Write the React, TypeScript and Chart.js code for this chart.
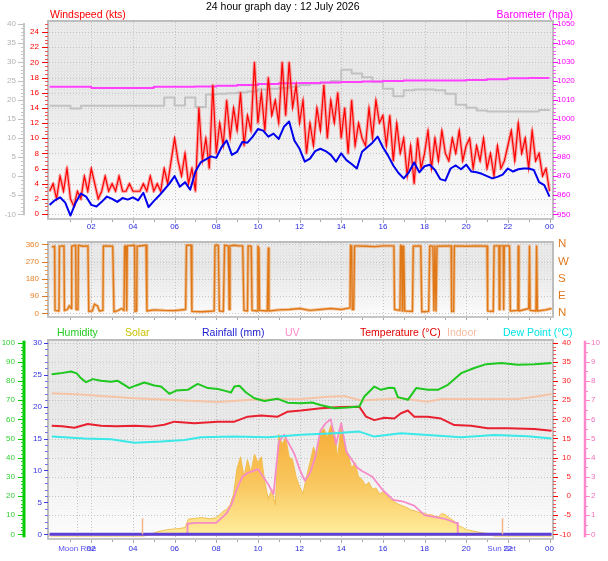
import React, { useEffect, useRef } from "react";
import { Chart, registerables } from "chart.js";

Chart.register(...registerables);

const FONT = '"Liberation Sans", Arial, Helvetica, sans-serif';
Chart.defaults.font.family = FONT;

// ---------------- shared time axis ----------------
const X_MIN = -0.03;
const X_MAX = 24.12;
const hourTicks = [2, 4, 6, 8, 10, 12, 14, 16, 18, 20, 22, 24];
const hourLabels = ["02", "04", "06", "08", "10", "12", "14", "16", "18", "20", "22", "00"];
const gridHours = [2, 4, 6, 8, 10, 12, 14, 16, 18, 20, 22];
const eventLabels = ["Moon Rise", "Sun Set"];
const eventHours = [1.33, 21.7];
const sunMarkHours = [4.45, 21.7];

const titleText = "24 hour graph day : 12 July 2026";

// ---------------- top panel ----------------
const windTicks = [0, 2, 4, 6, 8, 10, 12, 14, 16, 18, 20, 22, 24];
const greyTicks = [-10, -5, 0, 5, 10, 15, 20, 25, 30, 35, 40];
const baroTicks = [950, 960, 970, 980, 990, 1000, 1010, 1020, 1030, 1040, 1050];

const WIND_STEP = 0.25; // hours between samples, first sample at 00:00
const windSpeed = [
  1.2,
  1.8, 2.2, 1.5, -0.2, 1.5, 2.7, 2.3, 1.2, 1.0, 1.6, 2.3, 2.0,
  1.6, 2.1, 1.9, 2.2, 1.8, 2.8, 0.9, 1.7, 2.4, 3.2, 4.0, 5.0,
  3.6, 4.2, 3.2, 5.6, 6.8, 7.2, 7.6, 7.4, 8.8, 9.7, 7.8, 8.2,
  9.5, 9.4, 10.2, 11.2, 11.0, 10.2, 10.6, 9.9, 11.5, 12.2, 9.7, 8.6,
  6.9, 7.3, 8.3, 8.6, 8.3, 7.8, 6.9, 8.0, 7.1, 6.6, 6.0, 8.2,
  8.8, 9.4, 10.2, 8.8, 7.7, 6.4, 5.4, 4.7, 5.5, 6.8, 5.5, 6.3,
  6.5, 5.8, 4.6, 4.4, 6.0, 6.4, 5.9, 6.5, 5.6, 5.5, 5.3, 5.0,
  4.7, 4.9, 5.2, 6.0, 5.6, 5.9, 6.0, 6.0, 5.8, 4.2, 3.8, 2.3,
];

const GUST_STEP = 1 / 6; // 10-minute samples
const windGust = [
  3,
  4, 2, 5, 3, 6, 2,
  1, 3, 2, 5, 3, 6,
  4, 2, 3, 5, 3, 4,
  3, 5, 3, 3, 4, 3,
  3, 3, 4, 3, 5, 3,
  4, 3, 6, 4, 7, 10,
  7, 5, 8, 4, 6, 3,
  14, 7, 10, 6, 17, 8,
  12, 9, 15, 10, 14, 11,
  16, 9, 13, 11, 20, 12,
  16, 11, 18, 13, 15, 12,
  20, 13, 20, 14, 17, 12,
  15, 8, 12, 9, 14, 11,
  17, 10, 15, 12, 16, 10,
  14, 8, 15, 9, 12, 10,
  9, 14, 10, 15, 12, 13,
  9, 13, 7, 12, 8, 10,
  5, 9, 4, 10, 6, 8,
  11, 6, 10, 7, 11, 8,
  7, 10, 8, 11, 7, 9,
  10, 6, 9, 7, 10, 6,
  8, 5, 9, 6, 7, 9,
  11, 7, 12, 8, 10, 6,
  11, 7, 8, 5, 6, 3,
];

const BARO_STEP = 1;
const barometer = [
  1017, 1017, 1016.4, 1016.4, 1016.4, 1017, 1017, 1017.2, 1017.6, 1018, 1018.5, 1018.8,
  1019, 1019.2, 1019.5, 1019.8, 1020, 1020.3, 1020.3, 1020.3, 1020.6, 1021, 1021.5, 1021.6, 1021.6,
];

const GREY_STEP = 0.5;
const greyTrace = [
  18.5, 18.5, 17.8, 18.5, 18.5, 18.5, 18.5, 18.5, 18.5, 18.5, 18.5,
  20.7, 18.6, 20.7, 18.2, 21.5, 21.7, 21.8, 22.0, 22.3, 22.8,
  23.0, 23.2, 23.5, 24.0, 24.3, 24.6, 25.0, 28.0,
  27.0, 26.0, 24.8, 23.0, 21.0, 22.6, 22.8, 22.8,
  22.6, 21.7, 18.8, 18.0, 17.3,
  17.0, 17.0, 17.0, 17.0, 17.0, 17.4, 17.5,
];

// ---------------- middle panel (wind direction) ----------------
const dirTicks = [0, 90, 180, 270, 360];
const dirLetters = ["N", "E", "S", "W", "N"];
const dirHours = [
  0.1, 0.24, 0.26, 0.45, 0.47, 0.69, 0.71, 0.85, 0.95, 1.03,
  1.06, 1.25, 1.27, 1.36, 1.38, 1.6, 1.84, 1.88, 2.05, 2.15,
  2.3, 2.39, 2.56, 2.58, 3.03, 3.09, 3.3, 3.45, 3.57, 3.6,
  3.66, 3.7, 3.73, 4.08, 4.1, 4.18, 4.2, 4.63, 4.67, 5.0,
  5.5, 6.0, 6.53, 6.57, 6.79, 6.83, 7.3, 7.9, 7.94, 8.1,
  8.15, 8.34, 8.4, 8.58, 8.62, 8.66, 8.87, 9.1, 9.27, 9.33,
  9.5, 9.53, 9.68, 9.72, 9.97, 10.0, 10.05, 10.08, 10.45, 10.5,
  10.53, 11.0, 11.5, 12.0, 12.5, 13.0, 13.5, 14.0, 14.42, 14.45,
  14.5, 14.53, 14.6, 14.64, 14.7, 15.2, 15.6, 16.0, 16.53, 16.56,
  16.82, 16.85, 16.9, 16.93, 16.96, 17.0, 17.05, 17.42, 17.46, 17.82,
  17.87, 18.2, 18.25, 18.4, 18.45, 18.5, 18.55, 18.6, 19.28, 19.3,
  19.4, 19.43, 20.0, 20.5, 21.0, 21.03, 21.3, 21.34, 21.57, 21.59,
  21.62, 21.78, 21.8, 21.83, 22.08, 22.12, 22.48, 22.5, 22.53, 23.0,
  23.04, 23.07, 23.35, 23.38, 23.42, 23.8, 24.1,
];
const dirDeg = [
  345, 350, 15, 12, 350, 352, 14, 20, 40, 25,
  350, 355, 20, 20, 355, 350, 352, 10, 12, 48,
  38, 12, 15, 352, 350, 8, 15, 25, 15, 350,
  352, 15, 352, 355, 10, 12, 350, 355, 12, 18,
  15, 14, 20, 355, 355, 10, 8, 12, 355, 355,
  12, 10, 355, 352, 20, 352, 355, 352, 352, 15,
  12, 352, 350, 15, 12, 350, 340, 15, 12, 340,
  12, 18, 20, 25, 15, 20, 25, 20, 28, 355,
  350, 20, 20, 352, 352, 350, 348, 352, 352, 20,
  15, 355, 350, 12, 350, 350, 12, 10, 350, 352,
  8, 10, 352, 350, 15, 352, 12, 350, 352, 10,
  10, 352, 350, 352, 350, 12, 10, 352, 352, 20,
  352, 352, 20, 352, 352, 12, 15, 350, 12, 25,
  350, 15, 12, 350, 12, 18, 25,
];

// ---------------- bottom panel ----------------
const humTicks = [0, 10, 20, 30, 40, 50, 60, 70, 80, 90, 100];
const rainTicks = [0, 5, 10, 15, 20, 25, 30];
const tempTicks = [-10, -5, 0, 5, 10, 15, 20, 25, 30, 35, 40];
const uvTicks = [0, 1, 2, 3, 4, 5, 6, 7, 8, 9, 10];

const humHours = [
  0.1, 0.5, 1.03, 1.3, 1.5, 1.75, 2.07, 2.47, 2.95, 3.27,
  3.51, 3.83, 4.15, 4.55, 5.03, 5.35, 5.75, 6.07, 6.63, 7.11,
  7.6, 8.07, 8.39, 8.71, 8.87, 9.11, 9.43, 9.83, 10.31, 10.95,
  11.43, 12.07, 12.6, 13.0, 13.67, 14.3, 14.87, 15.11, 15.59, 15.91,
  16.3, 16.55, 16.72, 17.2, 17.6, 18.16, 18.64, 19.12, 19.76, 20.39,
  20.96, 21.68, 22.48, 23.27, 24.1,
];
const humValues = [
  83.5, 84, 85, 84, 81.5, 79.4, 81, 80.1, 79.6, 80.1,
  78.5, 76.3, 77.7, 79.2, 77.7, 77.1, 73.3, 75, 75.4, 78.5,
  76.3, 75.8, 75, 74, 77.1, 77.5, 74, 71, 69.6, 70.7,
  68.7, 68.4, 68.8, 67.5, 65.8, 66.2, 66.7, 71.9, 77.1, 75.4,
  76.5, 76.3, 71.6, 70.2, 76.3, 75.4, 75.4, 78, 84.1, 86.8,
  88.8, 89.4, 88.5, 88.8, 89.4,
];

const tempHours = [
  0.1, 0.6, 1.19, 1.83, 2.47, 3.2, 4.07, 4.87, 5.5, 5.99,
  6.95, 8.07, 8.87, 9.51, 10.15, 10.95, 11.43, 12.07, 13.03, 13.99,
  14.87, 15.19, 15.59, 16.07, 16.55, 16.87, 17.2, 17.51, 18.15, 18.79,
  19.43, 20.23, 21.03, 22.0, 23.27, 24.1,
];
const tempValues = [
  18.3, 18.2, 17.8, 18.8, 18.3, 18.2, 18.3, 18.1, 18.6, 19.4,
  19.0, 19.4, 19.4, 20.7, 21.0, 20.7, 22.0, 22.3, 22.9, 23.2,
  23.3, 20.7, 19.8, 20.4, 20.2, 21.6, 22.3, 20.7, 20.7, 20.2,
  18.5, 18.3, 17.7, 17.7, 17.5, 17.0,
];

const indoorHours = [0.1, 1.5, 2.47, 4.07, 5.67, 8.07, 9.67, 11.27, 12.07, 13.2, 14.15, 14.95, 16.87, 18.15, 18.79, 20.87, 22.48, 23.3, 24.1];
const indoorValues = [26.8, 26.5, 26.1, 25.5, 25.1, 24.5, 25.1, 25.3, 25.3, 25.8, 26.1, 24.9, 25.5, 24.6, 25.3, 25.3, 25.3, 25.9, 26.6];

const dewHours = [0.1, 1.67, 2.95, 4.07, 5.35, 6.47, 7.27, 8.87, 10.47, 12.07, 13.67, 14.87, 15.59, 16.87, 18.15, 19.76, 21.35, 22.95, 24.1];
const dewValues = [15.5, 15.0, 14.8, 13.9, 14.2, 14.6, 15.3, 15.5, 15.3, 16.0, 16.4, 16.8, 15.5, 16.4, 15.9, 15.3, 15.9, 15.6, 15.0];

const uvHours = [
  0, 6.6, 6.62, 7.0, 7.5, 8.0, 8.3, 8.5, 8.75, 9.0,
  9.25, 9.5, 9.75, 10.0, 10.25, 10.5, 10.75, 11.0, 11.25, 11.5,
  11.75, 12.0, 12.25, 12.5, 12.75, 13.0, 13.25, 13.5, 13.75, 14.0,
  14.25, 14.5, 14.75, 15.0, 15.5, 16.0, 16.5, 17.0, 17.5, 18.0,
  18.5, 19.0, 19.5, 19.58, 19.6, 24.1,
];
const uvValues = [
  0, 0, 0.55, 0.6, 0.6, 0.6, 0.9, 1.1, 1.6, 2.4,
  3.0, 3.2, 3.3, 3.4, 3.0, 2.6, 2.1, 4.8, 5.2, 4.7,
  4.2, 3.4, 2.8, 3.2, 4.0, 5.4, 5.8, 6.0, 4.7, 5.8,
  4.3, 3.9, 3.5, 3.3, 3.0, 2.3, 1.8, 1.7, 1.5, 1.0,
  0.9, 0.8, 0.6, 0.6, 0, 0,
];

const SOLAR_START = 4; // first 10-minute sample hour
const SOLAR_STEP = 1 / 6;
const solar = [
  0, 0, 0, 0, 5, 12,
  20, 30, 35, 40, 45, 48,
  50, 52, 55, 60, 120, 122,
  125, 128, 130, 126, 122, 125,
  130, 150, 175, 190, 220, 300,
  480, 560, 420, 540, 450, 580,
  520, 560, 380, 260, 330, 220,
  720, 650, 700, 560, 540, 420,
  350, 300, 420, 520, 630, 560,
  730, 760, 700, 785, 740, 560,
  800, 640, 580, 480, 520, 420,
  400, 360, 380, 330, 340, 300,
  310, 290, 260, 250, 230, 220,
  210, 200, 185, 180, 170, 165,
  160, 150, 150, 140, 135, 160,
  150, 130, 115, 95, 70, 60,
  45, 40, 35, 30, 25, 22,
  18, 10, 0, 0, 0, 0,
];

const rainHours = [0, 24.1];
const rainValues = [0, 0];

// ---------------- helpers ----------------
type Pt = { x: number; y: number };
const pairs = (xs: number[], ys: number[]): Pt[] => ys.map((y, i) => ({ x: xs[i], y }));
const regular = (start: number, step: number, ys: number[]): Pt[] => ys.map((y, i) => ({ x: start + i * step, y }));

function text(ctx: CanvasRenderingContext2D, s: string, x: number, y: number, color: string, size: number, align: CanvasTextAlign = "left") {
  ctx.font = `${size}px ${FONT}`;
  ctx.fillStyle = color;
  ctx.textAlign = align;
  ctx.textBaseline = "middle";
  ctx.fillText(s, x, y);
}

function tickRun(ctx: CanvasRenderingContext2D, scale: any, from: number, to: number, step: number, x0: number, x1: number, color: string) {
  ctx.save();
  ctx.strokeStyle = color;
  ctx.lineWidth = 1;
  ctx.setLineDash([]);
  ctx.beginPath();
  const n = Math.round((to - from) / step);
  for (let i = 0; i <= n; i++) {
    const y = Math.round(scale.getPixelForValue(from + i * step)) + 0.5;
    ctx.moveTo(x0, y);
    ctx.lineTo(x1, y);
  }
  ctx.stroke();
  ctx.restore();
}

function labelRun(ctx: CanvasRenderingContext2D, scale: any, values: number[], labels: string[], x: number, align: CanvasTextAlign, color: string, size = 8) {
  values.forEach((v, i) => text(ctx, labels[i], x, scale.getPixelForValue(v), color, size, align));
}

function vAxisLine(ctx: CanvasRenderingContext2D, x: number, y0: number, y1: number, color: string, w: number) {
  ctx.save();
  ctx.strokeStyle = color;
  ctx.lineWidth = w;
  ctx.beginPath();
  ctx.moveTo(x, y0);
  ctx.lineTo(x, y1);
  ctx.stroke();
  ctx.restore();
}

let dotCanvas: HTMLCanvasElement | null = null;
function dotPattern(ctx: CanvasRenderingContext2D) {
  if (!dotCanvas) {
    dotCanvas = document.createElement("canvas");
    dotCanvas.width = 3;
    dotCanvas.height = 3;
    const c = dotCanvas.getContext("2d")!;
    c.fillStyle = "#ffffff";
    c.fillRect(0, 0, 1, 1);
    c.fillRect(2, 1, 1, 1);
  }
  return ctx.createPattern(dotCanvas, "repeat");
}

function drawBackground(chart: any, vLines: number[], hScaleId: string, hValues: number[]) {
  const { ctx, chartArea: a, scales } = chart;
  ctx.save();
  const g = ctx.createLinearGradient(0, a.top, 0, a.bottom);
  g.addColorStop(0, "#e7e7e7");
  g.addColorStop(0.3, "#e3e3e3");
  g.addColorStop(0.65, "#eeeeee");
  g.addColorStop(1, "#fcfcfc");
  ctx.fillStyle = g;
  ctx.fillRect(a.left, a.top, a.right - a.left, a.bottom - a.top);
  const pat = dotPattern(ctx);
  if (pat) {
    ctx.globalAlpha = 0.45;
    ctx.fillStyle = pat;
    ctx.fillRect(a.left, a.top, a.right - a.left, a.bottom - a.top);
    ctx.globalAlpha = 1;
  }
  ctx.lineWidth = 1;
  ctx.setLineDash([1, 2]);
  ctx.strokeStyle = "#c4c4c4";
  ctx.beginPath();
  for (const h of vLines) {
    const x = Math.round(scales.x.getPixelForValue(h)) + 0.5;
    ctx.moveTo(x, a.top);
    ctx.lineTo(x, a.bottom);
  }
  const ys = scales[hScaleId];
  for (const v of hValues) {
    const y = Math.round(ys.getPixelForValue(v)) + 0.5;
    ctx.moveTo(a.left, y);
    ctx.lineTo(a.right, y);
  }
  ctx.stroke();
  ctx.restore();
}

function drawFrame(chart: any) {
  const { ctx, chartArea: a } = chart;
  ctx.save();
  ctx.strokeStyle = "#bdbdbd";
  ctx.lineWidth = 2;
  ctx.setLineDash([]);
  ctx.strokeRect(a.left - 1, a.top - 1, a.right - a.left + 2, a.bottom - a.top + 2);
  ctx.fillStyle = "#c6c6c6";
  ctx.fillRect(a.left - 2, a.bottom, a.right - a.left + 4, 2);
  ctx.restore();
}

function xTicksAndLabels(chart: any, labelY: number, withLabels: boolean) {
  const { ctx, chartArea: a, scales } = chart;
  ctx.save();
  ctx.strokeStyle = "#a8a8a8";
  ctx.lineWidth = 1;
  ctx.beginPath();
  for (let h = 1; h <= 24; h++) {
    const x = Math.round(scales.x.getPixelForValue(h)) + 0.5;
    ctx.moveTo(x, a.bottom + 2);
    ctx.lineTo(x, a.bottom + (h % 2 === 0 ? 5 : 4));
  }
  ctx.stroke();
  ctx.restore();
  if (withLabels) {
    hourTicks.forEach((h, i) => text(ctx, hourLabels[i], scales.x.getPixelForValue(h), labelY, "#2b2bdc", 8, "center"));
  }
}

function baseOptions(padding: any, yScales: any) {
  return {
    responsive: false,
    animation: false,
    events: [],
    layout: { padding },
    plugins: { legend: { display: false }, tooltip: { enabled: false }, title: { display: false } },
    elements: { point: { radius: 0 }, line: { tension: 0, borderJoinStyle: "round", borderCapStyle: "butt" } },
    scales: { x: { type: "linear", min: X_MIN, max: X_MAX, display: false }, ...yScales },
  };
}

// ---------------- chart configs ----------------
function topConfig(): any {
  const plugin = {
    id: "topDecor",
    beforeDraw(chart: any) {
      drawBackground(chart, gridHours, "yW", windTicks);
    },
    afterDatasetsDraw(chart: any) {
      drawFrame(chart);
    },
    afterDraw(chart: any) {
      const { ctx, scales: s } = chart;
      text(ctx, titleText, 206, 7, "#000000", 10.5, "left");
      text(ctx, "Windspeed (kts)", 50, 15, "#ff0000", 10.5, "left");
      text(ctx, "Barometer (hpa)", 573, 15, "#ff00ff", 10.5, "right");
      // grey outer axis
      vAxisLine(ctx, 24, s.yG.getPixelForValue(40) - 1, s.yG.getPixelForValue(-10) + 1, "#c6c6c6", 2);
      tickRun(ctx, s.yG, -10, 40, 1, 21, 24, "#c6c6c6");
      tickRun(ctx, s.yG, -10, 40, 5, 18, 24, "#c0c0c0");
      labelRun(ctx, s.yG, greyTicks, greyTicks.map(String), 16, "right", "#b2b2b2");
      // windspeed axis
      tickRun(ctx, s.yW, 0, 25, 0.5, 45, 48, "#ff5050");
      tickRun(ctx, s.yW, 0, 24, 2, 42, 48, "#ff0000");
      labelRun(ctx, s.yW, windTicks, windTicks.map(String), 39, "right", "#ff0000");
      // barometer axis
      tickRun(ctx, s.yB, 950, 1050, 2, 553, 556, "#ff55ff");
      tickRun(ctx, s.yB, 950, 1050, 10, 553, 558, "#ff00ff");
      labelRun(ctx, s.yB, baroTicks, baroTicks.map(String), 557, "left", "#ff00ff");
      xTicksAndLabels(chart, 227, true);
    },
  };
  return {
    type: "line",
    data: {
      datasets: [
        { data: regular(0, WIND_STEP, windSpeed), yAxisID: "yW", borderColor: "#0000ee", borderWidth: 2 },
        { data: regular(0, GUST_STEP, windGust), yAxisID: "yW", borderColor: "#ff0000", borderWidth: 1.2, borderJoinStyle: "miter" },
        { data: regular(0, GUST_STEP, windGust), yAxisID: "yW", borderColor: "rgba(255,70,70,0.4)", borderWidth: 3.4 },
        { data: regular(0, BARO_STEP, barometer), yAxisID: "yB", borderColor: "#ff40ff", borderWidth: 2, stepped: true },
        { data: regular(0, GREY_STEP, greyTrace), yAxisID: "yG", borderColor: "#c2c2c2", borderWidth: 2, stepped: true },
      ],
    },
    options: baseOptions(
      { left: 49, right: 56, top: 22, bottom: 14 },
      {
        yW: { type: "linear", min: -0.527, max: 25.32, display: false },
        yG: { type: "linear", min: -10.97, max: 40.53, display: false },
        yB: { type: "linear", min: 948.06, max: 1051.05, display: false },
      }
    ),
    plugins: [plugin],
  };
}

function midConfig(): any {
  const plugin = {
    id: "midDecor",
    beforeDraw(chart: any) {
      drawBackground(chart, gridHours, "yD", dirTicks);
    },
    afterDatasetsDraw(chart: any) {
      drawFrame(chart);
    },
    afterDraw(chart: any) {
      const { ctx, scales: s } = chart;
      tickRun(ctx, s.yD, 0, 360, 22.5, 45, 48, "#eb9a55");
      tickRun(ctx, s.yD, 0, 360, 90, 42, 48, "#e07a20");
      labelRun(ctx, s.yD, dirTicks, dirTicks.map(String), 39, "right", "#e8822a");
      labelRun(ctx, s.yD, dirTicks, dirLetters, 558, "left", "#e07a20", 11.5);
      xTicksAndLabels(chart, 0, false);
    },
  };
  return {
    type: "line",
    data: {
      datasets: [
        { data: pairs(dirHours, dirDeg), yAxisID: "yD", borderColor: "#e07818", borderWidth: 1.4 },
        { data: pairs(dirHours, dirDeg), yAxisID: "yD", borderColor: "rgba(236,150,70,0.5)", borderWidth: 3.2 },
      ],
    },
    options: baseOptions(
      { left: 49, right: 56, top: 11, bottom: 4 },
      { yD: { type: "linear", min: -14.1, max: 366.8, display: false } }
    ),
    plugins: [plugin],
  };
}

function bottomConfig(): any {
  const plugin = {
    id: "bottomDecor",
    beforeDraw(chart: any) {
      drawBackground(chart, [...gridHours, eventHours[0]], "yH", humTicks);
    },
    afterDatasetsDraw(chart: any) {
      const { ctx, scales: s } = chart;
      ctx.save();
      ctx.strokeStyle = "#f2b48c";
      ctx.lineWidth = 1.5;
      ctx.beginPath();
      for (const h of sunMarkHours) {
        const x = Math.round(s.x.getPixelForValue(h)) + 0.5;
        ctx.moveTo(x, s.yR.getPixelForValue(0));
        ctx.lineTo(x, s.yR.getPixelForValue(2.5));
      }
      ctx.stroke();
      ctx.restore();
      drawFrame(chart);
    },
    afterDraw(chart: any) {
      const { ctx, scales: s } = chart;
      const ly = 13;
      text(ctx, "Humidity", 57, ly, "#22cc22", 10.5);
      text(ctx, "Solar", 125, ly, "#c8c000", 10.5);
      text(ctx, "Rainfall (mm)", 202, ly, "#1a1ad0", 10.5);
      text(ctx, "UV", 285, ly, "#ff88cc", 10.5);
      text(ctx, "Temperature (°C)", 360, ly, "#e00000", 10.5);
      text(ctx, "Indoor", 447, ly, "#f4bca0", 10.5);
      text(ctx, "Dew Point (°C)", 503, ly, "#00e4e4", 10.5);
      // humidity axis
      vAxisLine(ctx, 24, s.yH.getPixelForValue(100) - 2, s.yH.getPixelForValue(0) + 3, "#00cc00", 3);
      tickRun(ctx, s.yH, 0, 100, 2, 21, 24, "#22cc22");
      tickRun(ctx, s.yH, 0, 100, 10, 18, 24, "#00cc00");
      labelRun(ctx, s.yH, humTicks, humTicks.map(String), 15, "right", "#33cc33");
      // rainfall axis
      tickRun(ctx, s.yR, 0, 30, 1, 45, 48, "#7070ee");
      tickRun(ctx, s.yR, 0, 30, 5, 44, 48, "#3a3ae0");
      labelRun(ctx, s.yR, rainTicks, rainTicks.map(String), 42, "right", "#3434e0");
      // temperature axis
      tickRun(ctx, s.yT, -10, 40, 1, 553, 556, "#ff5050");
      tickRun(ctx, s.yT, -10, 40, 5, 553, 558, "#ff0000");
      labelRun(ctx, s.yT, tempTicks, tempTicks.map(String), 571, "right", "#ff2020");
      // UV axis
      vAxisLine(ctx, 585, s.yU.getPixelForValue(10) - 2, s.yU.getPixelForValue(0) + 3, "#ff88cc", 2.5);
      tickRun(ctx, s.yU, 0, 10, 0.5, 585, 588, "#ff88cc");
      tickRun(ctx, s.yU, 0, 10, 1, 585, 590, "#ff88cc");
      labelRun(ctx, s.yU, uvTicks, uvTicks.map(String), 591, "left", "#f070b8");
      xTicksAndLabels(chart, 229, true);
      eventHours.forEach((h, i) => text(ctx, eventLabels[i], s.x.getPixelForValue(h), 229, "#5a50f0", 8, "center"));
    },
  };
  const solarFill = (c: any) => {
    const ch = c.chart;
    const a = ch.chartArea;
    if (!a) return "rgba(246,176,60,0.8)";
    const g = ch.ctx.createLinearGradient(0, a.top + 80, 0, a.bottom);
    g.addColorStop(0, "#f6a932");
    g.addColorStop(0.55, "#f9c860");
    g.addColorStop(1, "#fff0a0");
    return g;
  };
  return {
    type: "line",
    data: {
      datasets: [
        { data: pairs(rainHours, rainValues), yAxisID: "yR", borderColor: "#5a3fd8", borderWidth: 3 },
        { data: pairs(humHours, humValues), yAxisID: "yH", borderColor: "#1ec81e", borderWidth: 2 },
        { data: pairs(tempHours, tempValues), yAxisID: "yT", borderColor: "#e82030", borderWidth: 2 },
        { data: pairs(dewHours, dewValues), yAxisID: "yT", borderColor: "#3ae8e8", borderWidth: 2 },
        { data: pairs(indoorHours, indoorValues), yAxisID: "yT", borderColor: "#f5c4a6", borderWidth: 2 },
        { data: pairs(uvHours, uvValues), yAxisID: "yU", borderColor: "#f58cc8", borderWidth: 1.8 },
        {
          data: [{ x: 0, y: 0 }, ...regular(SOLAR_START, SOLAR_STEP, solar), { x: 24.1, y: 0 }],
          yAxisID: "yS",
          borderColor: "#f2c050",
          borderWidth: 1,
          fill: "origin",
          backgroundColor: solarFill,
        },
      ],
    },
    options: baseOptions(
      { left: 49, right: 56, top: 21, bottom: 23 },
      {
        yH: { type: "linear", min: -1.93, max: 100.89, display: false },
        yR: { type: "linear", min: -0.579, max: 30.266, display: false },
        yT: { type: "linear", min: -10.966, max: 40.444, display: false },
        yU: { type: "linear", min: -0.193, max: 10.089, display: false },
        yS: { type: "linear", min: -14.15, max: 1380, display: false },
      }
    ),
    plugins: [plugin],
  };
}

// ---------------- components ----------------
function Panel({ top, height, build }: { top: number; height: number; build: () => any }) {
  const ref = useRef<HTMLCanvasElement | null>(null);
  useEffect(() => {
    if (!ref.current) return;
    const chart = new Chart(ref.current, build());
    return () => chart.destroy();
  }, []);
  return (
    <canvas
      ref={ref}
      width={608}
      height={height}
      style={{ position: "absolute", left: 0, top, width: 608, height, display: "block" }}
    />
  );
}

export default function App() {
  return (
    <div style={{ position: "absolute", left: 0, top: 0, width: 608, height: 561, background: "#ffffff", overflow: "hidden" }}>
      <Panel top={0} height={232} build={topConfig} />
      <Panel top={232} height={88} build={midConfig} />
      <Panel top={320} height={241} build={bottomConfig} />
    </div>
  );
}
